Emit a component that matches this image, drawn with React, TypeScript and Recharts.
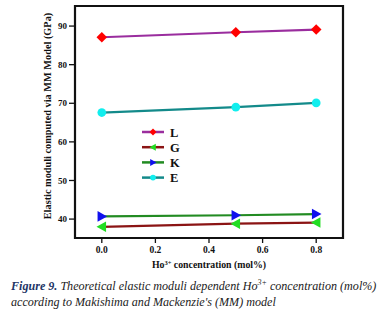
import { LineChart, Line, XAxis, YAxis, Label, ReferenceArea } from "recharts";

const conc = [0.0, 0.5, 0.8];
const L = [87.1, 88.4, 89.1];
const G = [38.0, 38.8, 39.1];
const K = [40.7, 41.0, 41.3];
const E = [67.6, 69.0, 70.1];
const xTicks = [0, 0.2, 0.4, 0.6, 0.8];
const yTicks = [40, 50, 60, 70, 80, 90];

const data = conc.map((c, i) => ({ c, L: L[i], G: G[i], K: K[i], E: E[i] }));

const serif = "'Liberation Serif', 'Times New Roman', serif";

type Shape = "diamond" | "left" | "right" | "circle";

const series: { key: string; line: string; marker: string; shape: Shape }[] = [
  { key: "L", line: "#9a2d9e", marker: "#ff0000", shape: "diamond" },
  { key: "G", line: "#8b1414", marker: "#22dd22", shape: "left" },
  { key: "K", line: "#228b22", marker: "#1010ee", shape: "right" },
  { key: "E", line: "#138a8a", marker: "#11eeee", shape: "circle" },
];

function marker(shape: Shape, cx: number, cy: number, r: number, fill: string, key?: string) {
  if (shape === "diamond")
    return <polygon key={key} points={`${cx},${cy - r} ${cx + r},${cy} ${cx},${cy + r} ${cx - r},${cy}`} fill={fill} />;
  if (shape === "left")
    return <polygon key={key} points={`${cx - r},${cy} ${cx + r * 0.8},${cy - r} ${cx + r * 0.8},${cy + r}`} fill={fill} />;
  if (shape === "right")
    return <polygon key={key} points={`${cx + r},${cy} ${cx - r * 0.8},${cy - r} ${cx - r * 0.8},${cy + r}`} fill={fill} />;
  return <circle key={key} cx={cx} cy={cy} r={r * 0.82} fill={fill} />;
}

function LegendBox() {
  return (
    <svg width={70} height={62}>
      {series.map((s, i) => {
        const y = 7 + i * 15.2;
        return (
          <g key={s.key}>
            <line x1={2} x2={24} y1={y} y2={y} stroke={s.line} strokeWidth={2.5} />
            {marker(s.shape, 13, y, 3.5, s.marker)}
            <text x={30} y={y + 4.5} fontFamily={serif} fontWeight="bold" fontSize={12.5} fill="#111">
              {s.key}
            </text>
          </g>
        );
      })}
    </svg>
  );
}

export default function App() {
  return (
    <div style={{ position: "absolute", left: 0, top: 0, width: 383, height: 316, background: "#fff" }}>
      <LineChart
        width={383}
        height={275}
        data={data}
        margin={{ top: 6, right: 40, left: 0, bottom: 0 }}
      >
        <XAxis
          dataKey="c"
          type="number"
          domain={[-0.1, 0.9]}
          ticks={xTicks}
          tickFormatter={(v: number) => v.toFixed(1)}
          tick={{ fontFamily: serif, fontWeight: "bold", fontSize: 9.5, fill: "#111" }}
          tickSize={5}
          tickMargin={3}
          axisLine={false}
          tickLine={{ stroke: "#111", strokeWidth: 1.3 }}
          height={37}
        >
          <Label
            content={(props: any) => {
              const vb = props.viewBox;
              return (
                <text
                  x={vb.x + vb.width / 2}
                  y={vb.y + 30}
                  textAnchor="middle"
                  fontFamily={serif}
                  fontWeight="bold"
                  fontSize={9.8}
                  fill="#111"
                >
                  Ho<tspan dy={-3.5} fontSize={6.5}>3+</tspan>
                  <tspan dy={3.5}> concentration (mol%)</tspan>
                </text>
              );
            }}
          />
        </XAxis>
        <YAxis
          type="number"
          domain={[35.1, 95.2]}
          ticks={yTicks}
          tick={{ fontFamily: serif, fontWeight: "bold", fontSize: 9, fill: "#111" }}
          tickSize={6}
          tickMargin={2}
          axisLine={false}
          tickLine={{ stroke: "#111", strokeWidth: 1.3 }}
          width={75}
        >
          <Label
            content={(props: any) => {
              const vb = props.viewBox;
              const cx = 47;
              const cy = vb.y + vb.height / 2 - 6;
              return (
                <text
                  x={cx}
                  y={cy}
                  transform={`rotate(-90 ${cx} ${cy})`}
                  textAnchor="middle"
                  dominantBaseline="central"
                  fontFamily={serif}
                  fontWeight="bold"
                  fontSize={10.3}
                  fill="#111"
                >
                  Elastic moduli computed via MM Model (GPa)
                </text>
              );
            }}
          />
        </YAxis>
        <ReferenceArea
          x1={-0.1}
          x2={0.9}
          y1={35.1}
          y2={95.2}
          fill="none"
          stroke="#111"
          strokeWidth={2.2}
          ifOverflow="visible"
        />
        {series.map((s) => (
          <Line
            key={s.key}
            dataKey={s.key}
            type="linear"
            stroke={s.line}
            strokeWidth={2.2}
            isAnimationActive={false}
            dot={(p: any) => marker(s.shape, p.cx, p.cy, 5.3, s.marker, `${s.key}-${p.index}`)}
            activeDot={false}
          />
        ))}
      </LineChart>
      <div style={{ position: "absolute", left: 140, top: 125 }}>
        <LegendBox />
      </div>
      <div
        style={{
          position: "absolute",
          left: 11,
          top: 278,
          fontFamily: serif,
          fontStyle: "italic",
          fontSize: 12.1,
          lineHeight: "16.3px",
          color: "#222",
          whiteSpace: "nowrap",
        }}
      >
        <span style={{ fontWeight: "bold", color: "#1d3566" }}>Figure 9.</span> Theoretical elastic moduli dependent Ho
        <sup style={{ fontSize: 8, lineHeight: 0 }}>3+</sup> concentration (mol%)
        <br />
        according to Makishima and Mackenzie's (MM) model
      </div>
    </div>
  );
}
